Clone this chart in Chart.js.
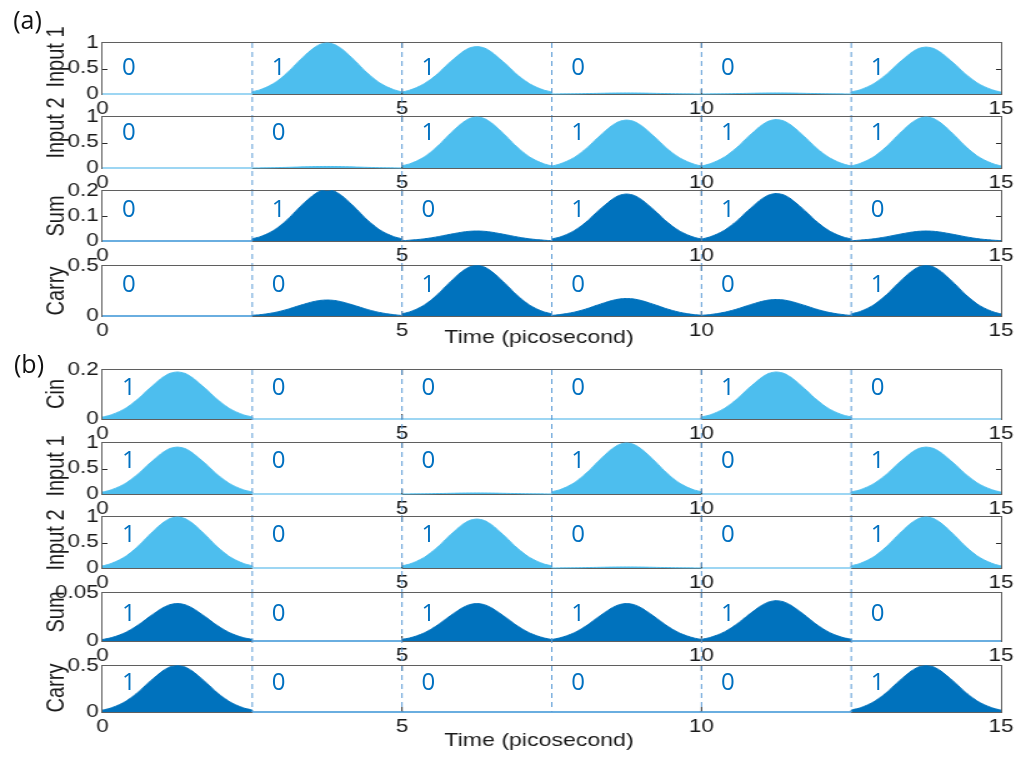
<!DOCTYPE html>
<html>
<head>
<meta charset="utf-8">
<script src="https://cdn.jsdelivr.net/npm/chart.js@4.4.0/dist/chart.umd.min.js"></script>
<style>
  html, body { margin: 0; padding: 0; background: #fff; }
  #wrap { position: relative; width: 1026px; height: 762px; overflow: hidden; background: #fff; }
  #wrap canvas { position: absolute; left: 0; top: 0; }
  .bit { position: absolute; font-family: "Open Sans", "Noto Sans", sans-serif; font-size: 24px;
         color: #0070C0; line-height: 1; transform: translate(-50%, -50%); white-space: nowrap; }
  .tag { position: absolute; font-family: "Open Sans", "Noto Sans", sans-serif; font-size: 25px;
         color: #111; line-height: 1; transform: translate(-50%, -50%); white-space: nowrap; }
</style>
</head>
<body>
<div id="wrap"></div>
<script>
// ---- time axis ----
const timeTicks = [0, 5, 10, 15];
const timeTickLabels = ['0', '5', '10', '15'];
const slotEdges = [2.5, 5, 7.5, 10, 12.5];
const slotCenters = [1.25, 3.75, 6.25, 8.75, 11.25, 13.75];

// normalised pulse profile across one 2.5 ps bit slot (offsets from slot centre, ps)
const pulseOffsets = [-1.25, -1.125, -1.0, -0.875, -0.75, -0.625, -0.5, -0.375, -0.25, -0.125, 0,
                      0.125, 0.25, 0.375, 0.5, 0.625, 0.75, 0.875, 1.0, 1.125, 1.25];
const pulseShape = [0.04, 0.08, 0.14, 0.22, 0.33, 0.46, 0.61, 0.75, 0.88, 0.97, 1.00,
                    0.97, 0.88, 0.75, 0.61, 0.46, 0.33, 0.22, 0.14, 0.08, 0.04];

// ---- (a) half adder: pulse peak per slot ----
const aInput1 = [0, 1.00, 0.93, 0.02, 0.02, 0.92];
const aInput2 = [0, 0.03, 1.00, 0.94, 0.95, 1.00];
const aSum    = [0, 0.205, 0.040, 0.188, 0.190, 0.040];
const aCarry  = [0, 0.160, 0.505, 0.175, 0.165, 0.505];

// ---- (b) full adder: pulse peak per slot ----
const bCin    = [0.192, 0, 0, 0, 0.192, 0];
const bInput1 = [0.92, 0, 0.02, 1.00, 0, 0.92];
const bInput2 = [1.00, 0, 0.96, 0.02, 0, 1.00];
const bSum    = [0.039, 0, 0.039, 0.039, 0.042, 0];
const bCarry  = [0.505, 0, 0, 0, 0, 0.505];

// ---- logic level written in each slot ----
const aInput1Bits = ['0', '1', '1', '0', '0', '1'];
const aInput2Bits = ['0', '0', '1', '1', '1', '1'];
const aSumBits    = ['0', '1', '0', '1', '1', '0'];
const aCarryBits  = ['0', '0', '1', '0', '0', '1'];
const bCinBits    = ['1', '0', '0', '0', '1', '0'];
const bInput1Bits = ['1', '0', '0', '1', '0', '1'];
const bInput2Bits = ['1', '0', '1', '0', '0', '1'];
const bSumBits    = ['1', '0', '1', '1', '1', '0'];
const bCarryBits  = ['1', '0', '0', '0', '0', '1'];

// ---- y tick values / labels ----
const unitTicks = [0, 0.5, 1];       const unitTickLabels = ['0', '0.5', '1'];
const fifthTicks = [0, 0.1, 0.2];    const fifthTickLabels = ['0', '0.1', '0.2'];
const halfTicks = [0, 0.5];          const halfTickLabels = ['0', '0.5'];
const smallTicks = [0, 0.05];        const smallTickLabels = ['0', '0.05'];

const timeTitle = 'Time (picosecond)';

// ---- drawing surface: drawn narrow, shown wide ----
const CW = 821, CH = 762, SHOW_W = 1026;
const S = SHOW_W / CW;
const PLOT_L = 82, PLOT_R = 801;
const XAXIS_H = 24;
const SANS = '"Liberation Sans", Arial, sans-serif';
const TXT = '#1a1a1a', FRAME = '#5f5f5f', TICK = '#2a2a2a', DASH = '#5B9BD5';
const LIGHT = '#4DBEEE', LIGHT_BASE = '#9dd6f3';
const DARK = '#0072BD', DARK_BASE = '#6aaee0';
const TITLE_X = 57 / S;
const XTITLE_X = 539 / S;
const BIT_OFFSET = 0.44;

const panels = [
  { peaks: aInput1, bits: aInput1Bits, title: 'Input 1', max: 1,    yt: unitTicks,  yl: unitTickLabels,  shade: 'light', top: 43,  bottom: 94,  extend: 23, titleY: 57,  bitY: 66 },
  { peaks: aInput2, bits: aInput2Bits, title: 'Input 2', max: 1,    yt: unitTicks,  yl: unitTickLabels,  shade: 'light', top: 117, bottom: 168, extend: 23, titleY: 128, bitY: 131 },
  { peaks: aSum,    bits: aSumBits,    title: 'Sum',     max: 0.2,  yt: fifthTicks, yl: fifthTickLabels, shade: 'dark',  top: 191, bottom: 241, extend: 25, titleY: 216, bitY: 208 },
  { peaks: aCarry,  bits: aCarryBits,  title: 'Carry',   max: 0.5,  yt: halfTicks,  yl: halfTickLabels,  shade: 'dark',  top: 266, bottom: 316, extend: 0,  titleY: 291, bitY: 283, xTitleY: 338 },
  { peaks: bCin,    bits: bCinBits,    title: 'Cin',     max: 0.2,  yt: fifthTicks, yl: fifthTickLabels, shade: 'light', top: 370, bottom: 419, extend: 24, titleY: 394, bitY: 386 },
  { peaks: bInput1, bits: bInput1Bits, title: 'Input 1', max: 1,    yt: unitTicks,  yl: unitTickLabels,  shade: 'light', top: 443, bottom: 494, extend: 23, titleY: 466, bitY: 459 },
  { peaks: bInput2, bits: bInput2Bits, title: 'Input 2', max: 1,    yt: unitTicks,  yl: unitTickLabels,  shade: 'light', top: 517, bottom: 568, extend: 25, titleY: 540, bitY: 533 },
  { peaks: bSum,    bits: bSumBits,    title: 'Sum',     max: 0.05, yt: smallTicks, yl: smallTickLabels, shade: 'dark',  top: 593, bottom: 641, extend: 25, titleY: 612, bitY: 612 },
  { peaks: bCarry,  bits: bCarryBits,  title: 'Carry',   max: 0.5,  yt: halfTicks,  yl: halfTickLabels,  shade: 'dark',  top: 666, bottom: 712, extend: 0,  titleY: 688, bitY: 681, xTitleY: 741 }
];

// waveform samples for one trace: each slot carries one scaled pulse
function buildSeries(peaks) {
  const pts = [];
  peaks.forEach((peak, k) => {
    pulseOffsets.forEach((off, i) => {
      pts.push({ x: slotCenters[k] + off, y: peak * pulseShape[i] });
    });
  });
  return pts;
}

// box, inward ticks, slot separators and axis titles of one panel
const panelDecor = {
  id: 'panelDecor',
  beforeDatasetsDraw(chart) {
    const { left, top, right, bottom } = chart.chartArea;
    const ctx = chart.ctx;
    ctx.save();
    ctx.strokeStyle = FRAME;
    ctx.lineWidth = 1;
    ctx.strokeRect(left - 0.5, top - 0.5, right - left + 1, bottom - top + 1);
    ctx.restore();
  },
  afterDatasetsDraw(chart, args, opts) {
    const { left, top, right, bottom } = chart.chartArea;
    const ctx = chart.ctx;
    const xs = chart.scales.x, ys = chart.scales.y;
    ctx.save();
    ctx.strokeStyle = TICK;
    ctx.lineWidth = 1;
    ctx.beginPath();
    xs.ticks.forEach(t => {
      if (t.value <= xs.min || t.value >= xs.max) return;
      const x = xs.getPixelForValue(t.value);
      ctx.moveTo(x, bottom); ctx.lineTo(x, bottom - 5);
      ctx.moveTo(x, top); ctx.lineTo(x, top + 5);
    });
    ys.ticks.forEach(t => {
      if (t.value <= ys.min || t.value >= ys.max) return;
      const y = Math.round(ys.getPixelForValue(t.value)) + 0.5;
      ctx.moveTo(left, y); ctx.lineTo(left + 4, y);
      ctx.moveTo(right, y); ctx.lineTo(right - 4, y);
    });
    ctx.stroke();

    ctx.strokeStyle = DASH;
    ctx.setLineDash([5, 4]);
    ctx.beginPath();
    slotEdges.forEach(v => {
      const x = xs.getPixelForValue(v);
      ctx.moveTo(x, top); ctx.lineTo(x, bottom + opts.extend);
    });
    ctx.stroke();
    ctx.restore();
  },
  afterDraw(chart, args, opts) {
    const ctx = chart.ctx;
    ctx.save();
    ctx.fillStyle = TXT;
    ctx.font = '20px ' + SANS;
    ctx.textAlign = 'center';
    ctx.textBaseline = 'middle';
    ctx.translate(TITLE_X, opts.titleY);
    ctx.rotate(-Math.PI / 2);
    ctx.fillText(opts.title, 0, 0);
    ctx.restore();
    if (opts.xTitleY) {
      ctx.save();
      ctx.fillStyle = TXT;
      ctx.font = '18.5px ' + SANS;
      ctx.textAlign = 'center';
      ctx.textBaseline = 'middle';
      ctx.fillText(timeTitle, XTITLE_X, opts.xTitleY);
      ctx.restore();
    }
  }
};

const wrap = document.getElementById('wrap');
const built = [];

panels.forEach(p => {
  const cv = document.createElement('canvas');
  cv.width = CW; cv.height = CH;
  cv.style.width = SHOW_W + 'px';
  cv.style.height = CH + 'px';
  wrap.appendChild(cv);
  const fillCol = p.shade === 'light' ? LIGHT : DARK;
  const baseCol = p.shade === 'light' ? LIGHT_BASE : DARK_BASE;
  const isFlat = c => c.p0.parsed.y === 0 && c.p1.parsed.y === 0;
  const chart = new Chart(cv.getContext('2d'), {
    type: 'line',
    data: {
      datasets: [{
        data: buildSeries(p.peaks),
        fill: 'origin',
        backgroundColor: fillCol,
        borderColor: fillCol,
        borderWidth: 1,
        tension: 0.25,
        pointRadius: 0,
        clip: { left: 2, right: 2, top: 1, bottom: 2 },
        segment: {
          borderColor: c => isFlat(c) ? baseCol : undefined,
          borderWidth: c => isFlat(c) ? 2 : undefined
        }
      }]
    },
    options: {
      responsive: false,
      animation: false,
      devicePixelRatio: 1,
      events: [],
      layout: { padding: { top: p.top, bottom: CH - p.bottom - XAXIS_H, left: 0, right: CW - PLOT_R } },
      plugins: {
        legend: { display: false },
        tooltip: { enabled: false },
        panelDecor: { title: p.title, titleY: p.titleY, extend: p.extend, xTitleY: p.xTitleY }
      },
      scales: {
        x: {
          type: 'linear', min: 0, max: 15,
          grid: { display: false, drawTicks: false }, border: { display: false },
          afterBuildTicks: s => { s.ticks = timeTicks.map(v => ({ value: v })); },
          afterFit: s => { s.height = XAXIS_H; },
          ticks: {
            autoSkip: false, maxRotation: 0, padding: 4, color: TXT,
            font: { family: SANS, size: 18 },
            callback: (v, i) => timeTickLabels[i]
          }
        },
        y: {
          min: 0, max: p.max,
          grid: { display: false, drawTicks: false }, border: { display: false },
          afterBuildTicks: s => { s.ticks = p.yt.map(v => ({ value: v })); },
          afterFit: s => { s.width = PLOT_L; },
          ticks: {
            padding: 3, color: TXT,
            font: { family: SANS, size: 18 },
            callback: (v, i) => p.yl[i]
          }
        }
      }
    },
    plugins: [panelDecor]
  });
  built.push({ chart, p });
});

// pin every plot box to its place on the page
built.forEach(({ chart, p }) => {
  for (let k = 0; k < 3; k++) {
    const ca = chart.chartArea;
    const pad = chart.options.layout.padding;
    const next = {
      top: pad.top + (p.top - ca.top),
      bottom: pad.bottom + (ca.bottom - p.bottom),
      left: pad.left + (PLOT_L - ca.left),
      right: pad.right + (ca.right - PLOT_R)
    };
    chart.options.layout.padding = next;
    chart.update('none');
  }
});

// slot logic levels
built.forEach(({ chart, p }) => {
  const xs = chart.scales.x;
  p.bits.forEach((b, k) => {
    const t = slotCenters[k] - 1.25 + BIT_OFFSET;
    const el = document.createElement('span');
    el.className = 'bit';
    el.textContent = b;
    el.style.left = (xs.getPixelForValue(t) * S) + 'px';
    el.style.top = p.bitY + 'px';
    wrap.appendChild(el);
  });
});

// sub-figure tags
[['(a)', 27.5, 18.5], ['(b)', 29, 363]].forEach(([txt, x, y]) => {
  const el = document.createElement('span');
  el.className = 'tag';
  el.textContent = txt;
  el.style.left = x + 'px';
  el.style.top = y + 'px';
  wrap.appendChild(el);
});
</script>
</body>
</html>
